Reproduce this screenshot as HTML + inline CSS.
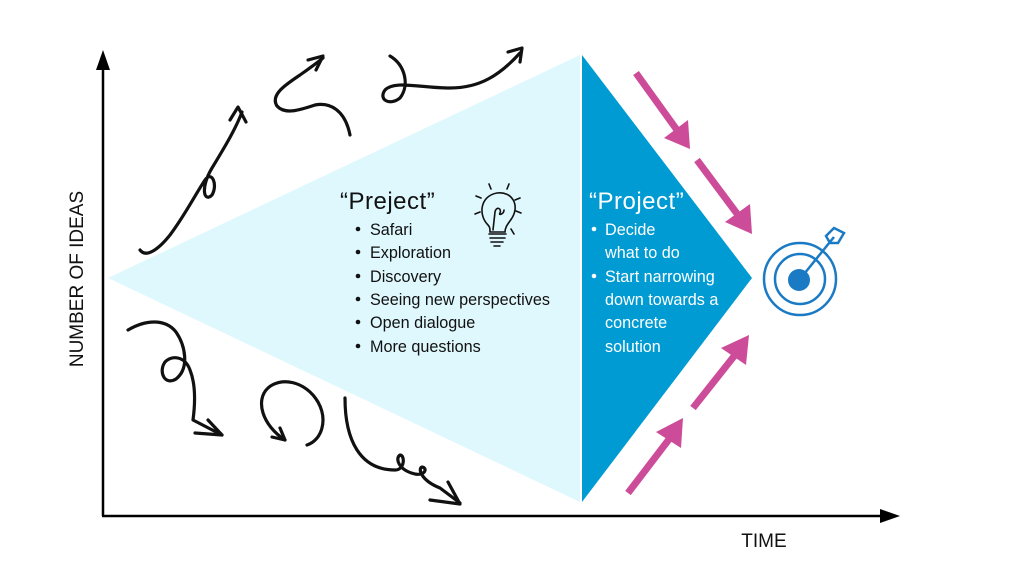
<!DOCTYPE html>
<html><head><meta charset="utf-8"><style>
body{margin:0;background:#fff;width:1024px;height:576px;overflow:hidden}
svg{display:block}
text{font-family:"Liberation Sans",sans-serif}
</style></head><body>
<svg width="1024" height="576" viewBox="0 0 1024 576" xmlns="http://www.w3.org/2000/svg">
<polygon points="108,278 580,55 580,502" fill="#dff8fd"/>
<polygon points="582,55 752,278 582,502" fill="#009bd2"/>
<line x1="103" y1="516" x2="103" y2="62" stroke="#000" stroke-width="2.5"/>
<polygon points="96,70 103,50 110,70" fill="#000"/>
<line x1="102" y1="516" x2="885" y2="516" stroke="#000" stroke-width="2.5"/>
<polygon points="880,509 900,516 880,523" fill="#000"/>
<text transform="translate(83,279) rotate(-90)" text-anchor="middle" font-size="19" fill="#111">NUMBER OF IDEAS</text>
<text x="764" y="547" text-anchor="middle" font-size="19" fill="#111">TIME</text>
<g fill="none" stroke="#111" stroke-width="3.2" stroke-linecap="round" stroke-linejoin="round">
<path d="M140,250 C146,258 158,250 170,235 C185,215 195,195 205,180 C212,170 218,185 212,195 C204,203 200,188 212,168 C226,145 236,128 242,112"/>
<path d="M230,120 L238,107 L246,122"/>
<path d="M350,135 C345,110 330,102 315,105 C300,110 285,115 277,106 C270,95 285,85 300,75 C310,68 318,62 323,58"/>
<path d="M308,60 L323,56 L316,70"/>
<path d="M390,56 C405,65 410,85 400,98 C390,106 378,100 385,90 C395,80 420,88 450,88 C480,88 500,75 520,53"/>
<path d="M508,52 L522,48 L520,62"/>
<path d="M128,330 C145,320 165,318 176,332 C185,345 190,368 176,379 C165,386 158,372 165,362 C172,355 185,356 190,370 C196,385 195,405 193,420 L222,435"/>
<path d="M195,433 L222,435 L208,420"/>
<path d="M307,445 C322,440 328,420 318,402 C305,380 280,377 268,388 C255,400 262,425 285,440"/>
<path d="M272,437 L285,440 L280,428"/>
<path d="M345,398 C345,440 360,470 395,470 C405,470 405,455 400,455 C395,458 398,470 415,474 C425,476 428,468 422,467 C418,468 420,480 440,488 L460,503"/>
<path d="M430,500 L460,504 L448,482"/>
</g>
<g fill="none" stroke="#111" stroke-width="1.6" stroke-linecap="round">
<path d="M488,225 C478,215 480,196 497,193 C512,191 520,205 512,218 C508,224 505,227 505,232 L490,232 C490,229 490,227 488,225Z"/>
<path d="M493,230 L495,212 C496,206 502,208 500,213 C498,216 504,214 504,210"/>
<path d="M489,234 L506,234 M490,238 L505,238 M491,242 L503,242 M494,246 L500,246"/>
<path d="M489,184 L491,189 M509,184 L507,189 M476,196 L481,198 M520,198 L515,200 M475,214 L480,212 M521,213 L516,211 M511,229 L514,234"/>
</g>
<g fill="#111">
<text x="340" y="209" font-size="24" letter-spacing="0.5">“Preject”</text>
<g font-size="16.2">
<text x="370" y="235">Safari</text>
<text x="370" y="258">Exploration</text>
<text x="370" y="282">Discovery</text>
<text x="370" y="305">Seeing new perspectives</text>
<text x="370" y="328">Open dialogue</text>
<text x="370" y="352">More questions</text>
</g>
<circle cx="358" cy="229" r="2.3"/><circle cx="358" cy="252" r="2.3"/><circle cx="358" cy="276" r="2.3"/><circle cx="358" cy="299" r="2.3"/><circle cx="358" cy="322" r="2.3"/><circle cx="358" cy="346" r="2.3"/>
</g>
<g fill="#fff">
<text x="589" y="209" font-size="24" letter-spacing="0.5">“Project”</text>
<g font-size="16.2">
<text x="605" y="235">Decide</text>
<text x="605" y="258">what to do</text>
<text x="605" y="282">Start narrowing</text>
<text x="605" y="305">down towards a</text>
<text x="605" y="328">concrete</text>
<text x="605" y="352">solution</text>
</g>
<circle cx="594" cy="229" r="2.3"/><circle cx="594" cy="276" r="2.3"/>
</g>
<g stroke="#cc4c9a" stroke-width="7" fill="#cc4c9a">
<line x1="636" y1="73" x2="677" y2="130"/>
<polygon points="664,138 690,149 688,120" stroke="none"/>
<line x1="697" y1="160" x2="738" y2="215"/>
<polygon points="725,222 752,234 750,204" stroke="none"/>
<line x1="628" y1="493" x2="670" y2="438"/>
<polygon points="656,432 683,418 681,448" stroke="none"/>
<line x1="693" y1="408" x2="735" y2="355"/>
<polygon points="721,348 749,335 746,365" stroke="none"/>
</g>
<g fill="none" stroke="#1a7ac4" stroke-width="2.5">
<circle cx="800" cy="279" r="36"/>
<circle cx="800" cy="279" r="25"/>
<line x1="800" y1="279" x2="834" y2="237"/>
<path d="M826,236 L834,228 L844,233 L838,243 L830,243 Z"/>
</g>
<circle cx="799" cy="280" r="11" fill="#1a7ac4"/>
</svg>
</body></html>
